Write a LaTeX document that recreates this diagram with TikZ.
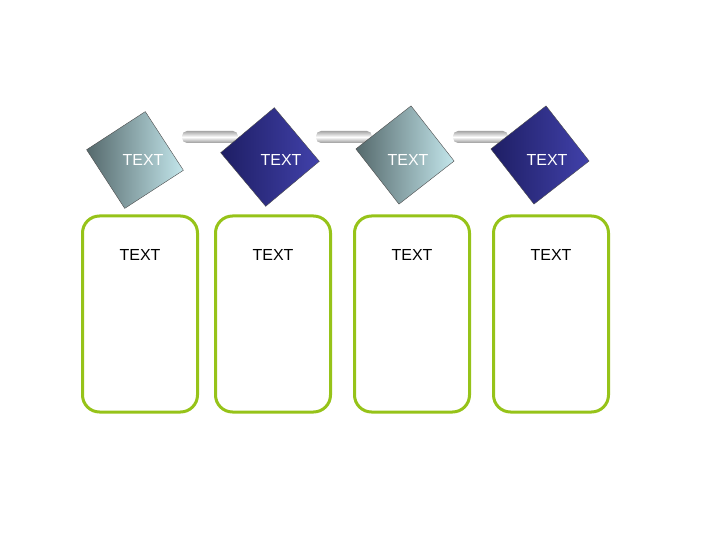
\documentclass[tikz,border=0pt]{standalone}
\usepackage{fontspec}
\setmainfont{Liberation Sans}
\definecolor{lime}{RGB}{150,195,25}
\definecolor{navyD}{RGB}{30,30,100}
\definecolor{navyL}{RGB}{65,65,170}
\definecolor{tealD}{RGB}{85,105,108}
\definecolor{tealL}{RGB}{195,230,235}
\tikzset{
  cube/.style={draw=black!70, thin, minimum size=70pt, inner sep=0pt},
  light/.style={cube, left color=tealD, right color=tealL},
  dark/.style={cube, left color=navyD, right color=navyL},
  card/.style={draw=lime, line width=3pt, rounded corners=17pt,
    minimum width=115pt, minimum height=196pt},
  bar/.style={top color=black!35, bottom color=black!40, middle color=white},
  lbl/.style={font=\fontsize{16}{18}\selectfont}
}
\begin{document}
\begin{tikzpicture}[x=1pt,y=-1pt]
    \useasboundingbox (0,0) rectangle (720,540);

    % bars
    \foreach \xa/\xb in {182/238, 316/372, 453/508}
        \shade[bar, rounded corners=5pt] (\xa,131) rectangle (\xb,143);

    % squares
    \node[light, rotate=33] (s1) at (135,160) {};
    \node[dark,  rotate=40] (s2) at (270,157) {};
    \node[light, rotate=38] (s3) at (405,155) {};
    \node[dark,  rotate=38] (s4) at (540,155) {};

    % labels
    \foreach \n/\x in {1/143, 2/281, 3/408, 4/547}
        \node[lbl, text=white] (t\n) at (\x,160) {TEXT};

    % cards
    \foreach \n/\x in {1/140, 2/273, 3/412, 4/551} {
        \node[card] (c\n) at (\x,314) {};
        \node[lbl] (ct\n) at (\x,255) {TEXT};
    }
\end{tikzpicture}
\end{document}
